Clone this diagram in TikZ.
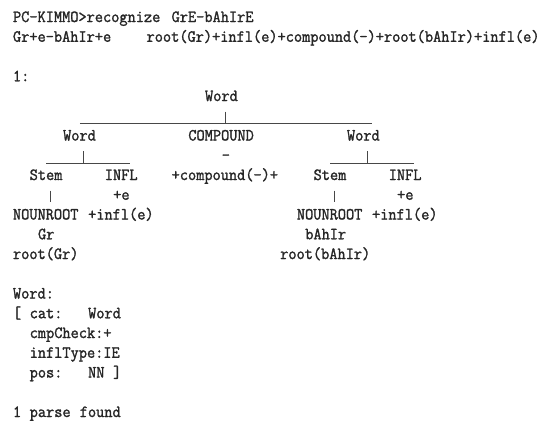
\documentclass[tikz,border=0pt]{standalone}
\usepackage{fontspec}
\newfontfamily\kimmo[FakeStretch=0.935,FakeBold=1.5]{Latin Modern Mono}
\definecolor{ink}{HTML}{262626}
\begin{document}
\begin{tikzpicture}[x=8.35pt,y=-19.75pt,
  txt/.style={anchor=base west,inner sep=0pt,outer sep=0pt,text=ink,
    font=\kimmo\fontsize{17}{19.75}\selectfont},
  bar/.style={draw=ink!85,line width=1pt}]
\useasboundingbox[fill=white] (-13pt,22pt) rectangle (541pt,-410pt);
% command lines
\node[txt] (cmd) at (0,0) {PC-KIMMO>recognize};
\node[txt] (inp) at (19,0) {GrE-bAhIrE};
\node[txt] (surf) at (0,1) {Gr+e-bAhIr+e};
\node[txt] (gloss) at (16,1) {root(Gr)+infl(e)+compound(-)+root(bAhIr)+infl(e)};
\node[txt] (num) at (0,3) {1:};
% tree
\node[txt] (tw) at (23,4) {Word};
\node[txt] (lw) at (6,6) {Word};
\node[txt] (cmp) at (21,6) {COMPOUND};
\node[txt] (rw) at (40,6) {Word};
\node[txt] (cmpl) at (25,7) {-};
\node[txt] (ls) at (2,8) {Stem};
\node[txt] (li) at (11,8) {INFL};
\node[txt] (cmpg) at (19,8) {+compound(-)+};
\node[txt] (rs) at (36,8) {Stem};
\node[txt] (ri) at (45,8) {INFL};
\node[txt] (lil) at (12,9) {+e};
\node[txt] (ril) at (46,9) {+e};
\node[txt] (lnr) at (0,10) {NOUNROOT};
\node[txt] (lig) at (9,10) {+infl(e)};
\node[txt] (rnr) at (34,10) {NOUNROOT};
\node[txt] (rig) at (43,10) {+infl(e)};
\node[txt] (lnl) at (3,11) {Gr};
\node[txt] (rnl) at (35,11) {bAhIr};
\node[txt] (lng) at (0,12) {root(Gr)};
\node[txt] (rng) at (32,12) {root(bAhIr)};
% connectors
\coordinate (t0) at (8,5.15);   \coordinate (t1) at (43,5.15);
\coordinate (tp0) at (25.5,4.54); \coordinate (tp1) at (25.5,5.15);
\draw[bar] (t0) -- (t1);
\draw[bar] (tp0) -- (tp1);
\coordinate (l0) at (4,7.15);   \coordinate (l1) at (14,7.15);
\coordinate (lp0) at (8.5,6.54); \coordinate (lp1) at (8.5,7.15);
\draw[bar] (l0) -- (l1);
\draw[bar] (lp0) -- (lp1);
\coordinate (r0) at (38,7.15);  \coordinate (r1) at (48,7.15);
\coordinate (rp0) at (42.5,6.54); \coordinate (rp1) at (42.5,7.15);
\draw[bar] (r0) -- (r1);
\draw[bar] (rp0) -- (rp1);
\coordinate (ls0) at (4.5,8.54); \coordinate (ls1) at (4.5,9.1);
\draw[bar] (ls0) -- (ls1);
\coordinate (rs0) at (38.5,8.54); \coordinate (rs1) at (38.5,9.1);
\draw[bar] (rs0) -- (rs1);
% feature structure
\node[txt] (fw) at (0,14) {Word:};
\node[txt] (fb) at (0,15) {[};
\node[txt] (fc) at (2,15) {cat:};
\node[txt] (fcv) at (9,15) {Word};
\node[txt] (fm) at (2,16) {cmpCheck:+};
\node[txt] (fi) at (2,17) {inflType:IE};
\node[txt] (fp) at (2,18) {pos:};
\node[txt] (fpv) at (9,18) {NN};
\node[txt] (fe) at (12,18) {]};
\node[txt] (p1) at (0,20) {1};
\node[txt] (p2) at (2,20) {parse};
\node[txt] (p3) at (8,20) {found};
\end{tikzpicture}
\end{document}
